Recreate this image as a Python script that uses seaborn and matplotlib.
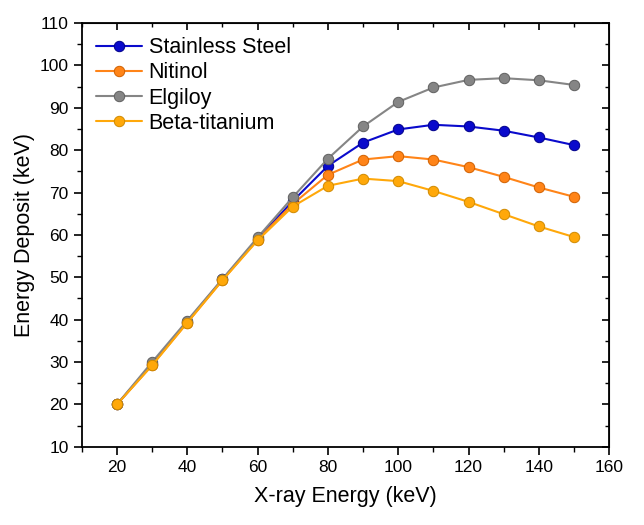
import numpy as np
import pandas as pd
import matplotlib
matplotlib.use("Agg")
import matplotlib.pyplot as plt
import seaborn as sns
from matplotlib.ticker import MultipleLocator

energy = [20, 30, 40, 50, 60, 70, 80, 90, 100, 110, 120, 130, 140, 150]
stainless = [20.0, 29.5, 39.5, 49.5, 59.0, 68.0, 76.3, 81.8, 84.9, 86.0, 85.6, 84.6, 83.0, 81.2]
nitinol = [20.0, 29.3, 39.3, 49.3, 58.9, 67.3, 74.2, 77.8, 78.6, 77.8, 76.0, 73.7, 71.2, 69.0]
elgiloy = [20.0, 30.0, 39.8, 49.6, 59.4, 68.9, 78.0, 85.6, 91.4, 94.8, 96.6, 97.0, 96.5, 95.4]
beta_ti = [20.0, 29.2, 39.3, 49.3, 58.7, 66.7, 71.6, 73.3, 72.7, 70.4, 67.8, 64.9, 62.0, 59.5]

series_names = ["Stainless Steel", "Nitinol", "Elgiloy", "Beta-titanium"]
series_vals = [stainless, nitinol, elgiloy, beta_ti]
colors = ["#0A0ACC", "#FF8418", "#858585", "#FFA80A"]
edge = ["#00008A", "#D06000", "#606060", "#D08A00"]

df = pd.DataFrame({
    "energy": energy * 4,
    "deposit": sum(series_vals, []),
    "material": sum([[n] * len(energy) for n in series_names], []),
})

sns.set_style("white")
plt.rcParams["font.family"] = ["Liberation Sans", "DejaVu Sans"]
plt.rcParams["text.color"] = "black"
plt.rcParams["axes.labelcolor"] = "black"
plt.rcParams["xtick.color"] = "black"
plt.rcParams["ytick.color"] = "black"

fig = plt.figure(figsize=(6.44, 5.25), dpi=100)
ax = fig.add_axes([0.127, 0.149, 0.819, 0.807])

draw_order = [2, 0, 1, 3]
for i in draw_order:
    sub = df[df["material"] == series_names[i]]
    sns.lineplot(data=sub, x="energy", y="deposit", ax=ax, color=colors[i],
                 marker="o", markersize=7.5, markeredgecolor=edge[i],
                 markeredgewidth=0.7, linewidth=1.5, label=series_names[i],
                 zorder=3 + i)

handles, labels = ax.get_legend_handles_labels()
hmap = dict(zip(labels, handles))
ax.legend([hmap[n] for n in series_names], series_names, loc="upper left",
          frameon=False, fontsize=15.5, handlelength=2.15, handletextpad=0.3,
          labelspacing=0.2, borderaxespad=0.25, bbox_to_anchor=(0.0, 1.0))

ax.set_xlim(10, 160)
ax.set_ylim(10, 110)
ax.set_xticks([20, 40, 60, 80, 100, 120, 140, 160])
ax.xaxis.set_minor_locator(MultipleLocator(10))
ax.yaxis.set_major_locator(MultipleLocator(10))
ax.yaxis.set_minor_locator(MultipleLocator(5))
ax.tick_params(axis="both", which="major", direction="out", length=6, width=1.2,
               labelsize=12.5, bottom=True, left=True)
ax.tick_params(axis="both", which="minor", direction="out", length=3.5, width=1.0,
               bottom=True, left=True)

ax.set_xlabel("X-ray Energy (keV)", fontsize=15.5, labelpad=8)
ax.set_ylabel("Energy Deposit (keV)", fontsize=15.5, labelpad=3)

for s in ax.spines.values():
    s.set_linewidth(1.3)
    s.set_color("black")

axt = ax.secondary_xaxis("top")
axt.xaxis.set_major_locator(MultipleLocator(20))
axt.xaxis.set_minor_locator(MultipleLocator(10))
axt.tick_params(which="major", direction="in", length=5, width=1.2, labeltop=False)
axt.tick_params(which="minor", direction="in", length=3, width=1.0)
axr = ax.secondary_yaxis("right")
axr.yaxis.set_major_locator(MultipleLocator(10))
axr.yaxis.set_minor_locator(MultipleLocator(5))
axr.tick_params(which="major", direction="in", length=5, width=1.2, labelright=False)
axr.tick_params(which="minor", direction="in", length=3, width=1.0)

fig.savefig("out.png", dpi=100)
